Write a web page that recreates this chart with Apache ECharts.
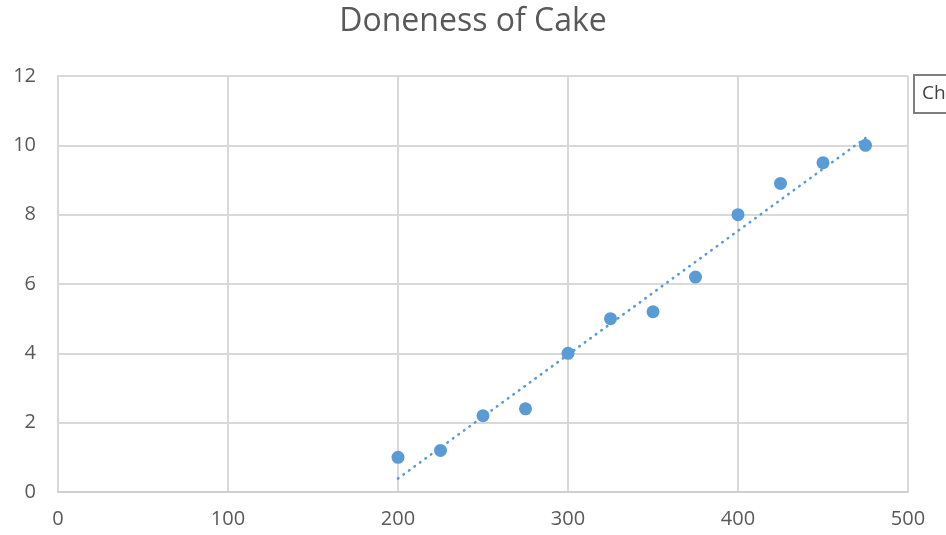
<!DOCTYPE html>
<html>
<head>
<meta charset="utf-8">
<script src="https://cdn.jsdelivr.net/npm/echarts@6/dist/echarts.min.js"></script>
<style>
html,body{margin:0;padding:0;background:#fff;}
#chart{width:946px;height:535px;}
</style>
</head>
<body>
<div id="chart"></div>
<script>
var titleText = 'Doneness of Cake';
var xValues = [200, 225, 250, 275, 300, 325, 350, 375, 400, 425, 450, 475];
var yValues = [1, 1.2, 2.2, 2.4, 4, 5, 5.2, 6.2, 8, 8.9, 9.5, 10];
var xTicks = [0, 100, 200, 300, 400, 500];
var yTicks = [0, 2, 4, 6, 8, 10, 12];
var sideBoxText = 'Ch';

// Linear trendline (least squares) from the data
var n = xValues.length, mx = 0, my = 0;
for (var i = 0; i < n; i++) { mx += xValues[i]; my += yValues[i]; }
mx /= n; my /= n;
var sxy = 0, sxx = 0;
for (var i = 0; i < n; i++) { sxy += (xValues[i]-mx)*(yValues[i]-my); sxx += (xValues[i]-mx)*(xValues[i]-mx); }
var slope = sxy / sxx, intercept = my - slope * mx;
var xFirst = xValues[0], xLast = xValues[n-1];
var trend = [[xFirst, intercept + slope*xFirst], [xLast, intercept + slope*xLast]];

var pts = xValues.map(function(x, i){ return [x, yValues[i]]; });

var font = '"Open Sans", "Noto Sans", sans-serif';
var chart = echarts.init(document.getElementById('chart'), null, {renderer:'canvas'});
chart.setOption({
  animation: false,
  backgroundColor: '#ffffff',
  title: {
    text: titleText, left: 'center', top: 1,
    textStyle: {fontFamily: font, fontSize: 32, fontWeight: 'normal', color: '#595959'}
  },
  grid: {left: 58, right: 38, top: 76, bottom: 43, containLabel: false},
  xAxis: {
    type: 'value', min: 0, max: 500, interval: 100,
    axisLine: {show: true, lineStyle: {color: '#d0d0d0', width: 2}},
    axisTick: {show: false},
    splitLine: {show: true, lineStyle: {color: '#d9d9d9', width: 2}},
    axisLabel: {fontFamily: font, fontSize: 20, color: '#595959', margin: 17,
      formatter: function(v){ return xTicks.indexOf(v) >= 0 ? String(v) : ''; }}
  },
  yAxis: {
    type: 'value', min: 0, max: 12, interval: 2,
    axisLine: {show: true, lineStyle: {color: '#d9d9d9', width: 2}},
    axisTick: {show: false},
    splitLine: {show: true, lineStyle: {color: '#d9d9d9', width: 2}},
    axisLabel: {fontFamily: font, fontSize: 20, color: '#595959', margin: 22,
      formatter: function(v){ return yTicks.indexOf(v) >= 0 ? String(v) : ''; }}
  },
  series: [
    {
      type: 'line', data: trend, showSymbol: false, symbol: 'none', z: 2,
      lineStyle: {color: '#5b9bd5', width: 2.6, type: [0.5, 6.3], cap: 'round'},
      silent: true
    },
    {
      type: 'scatter', data: pts, symbol: 'circle', symbolSize: 13, z: 3,
      itemStyle: {color: '#5b9bd5', opacity: 1}
    }
  ],
  graphic: [
    {
      type: 'group', left: 913, top: 74,
      children: [
        {type: 'rect', shape: {x: 0, y: 0, width: 60, height: 38},
          style: {fill: '#ffffff', stroke: '#7f7f7f', lineWidth: 2}},
        {type: 'text', style: {x: 8, y: 19, text: sideBoxText, fill: '#404040',
          font: '19px "Open Sans", "Noto Sans", sans-serif', verticalAlign: 'middle'}}
      ]
    }
  ]
});
</script>
</body>
</html>
